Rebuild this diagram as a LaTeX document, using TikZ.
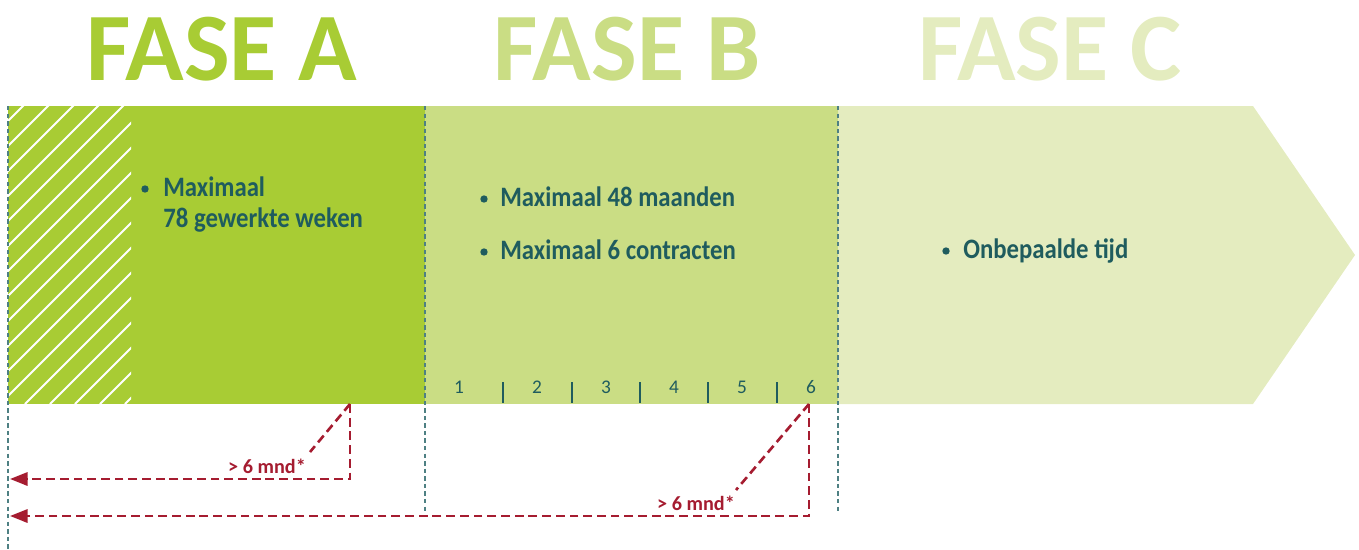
\documentclass[tikz,border=0pt]{standalone}
\usepackage{fontspec}
\setmainfont{Carlito}
\newfontfamily\smal{Carlito}[FakeStretch=0.88,BoldFont={Carlito Bold},BoldFeatures={FakeStretch=0.88}]
\usetikzlibrary{arrows.meta}
\definecolor{faseA}{HTML}{A8CC34}
\definecolor{faseB}{HTML}{CADD84}
\definecolor{faseC}{HTML}{E4ECBF}
\definecolor{tekst}{HTML}{1F5C5E}
\definecolor{termijn}{HTML}{A51C30}
\definecolor{grens}{HTML}{4E8083}
\begin{document}
\begin{tikzpicture}[x=0.2mm,y=-0.2mm,
    titel/.style={anchor=base,font=\fontsize{55}{60}\selectfont\bfseries},
    punt/.style={anchor=base west,inner sep=0pt,text=tekst,font=\smal\fontsize{16}{18}\selectfont\bfseries},
    bol/.style={circle,fill=tekst,inner sep=0pt,minimum size=4.2pt},
    maand/.style={anchor=base,text=tekst,font=\fontsize{11}{12}\selectfont},
    termijntekst/.style={anchor=base,text=termijn,font=\fontsize{11.5}{12}\selectfont\bfseries},
    grenslijn/.style={grens,line width=0.8pt,dash pattern=on 2.5pt off 1.8pt},
    termijnlijn/.style={termijn,line width=1.5pt,dash pattern=on 5pt off 2.8pt},
    pijl/.style={termijnlijn,-{Triangle[length=10pt,width=7.5pt]}}]
    \useasboundingbox (0,0) rectangle (1359,549);
    % fasen
    \fill[faseA] (8,106) rectangle (425,404);
    \fill[faseB] (425,106) rectangle (838,404);
    \fill[faseC] (838,106) -- (1253,106) -- (1355,255) -- (1253,404) -- (838,404) -- cycle;
    \begin{scope}
        \clip (8,106) rectangle (131,404);
        \foreach \i in {-300,-275,...,150}
            \draw[white,line width=1.1pt] (\i,404) -- ++(300,-300);
    \end{scope}
    % grenzen
    \coordinate (gA) at (8,106);   \coordinate (gA') at (8,549);
    \coordinate (gB) at (425,106); \coordinate (gB') at (425,514);
    \coordinate (gC) at (838,106); \coordinate (gC') at (838,514);
    \draw[grenslijn] (gA) -- (gA');
    \draw[grenslijn] (gB) -- (gB');
    \draw[grenslijn] (gC) -- (gC');
    % titels
    \node[titel,text=faseA] (tA) at (222,80) {FASE A};
    \node[titel,text=faseB] (tB) at (627,80) {FASE B};
    \node[titel,text=faseC] (tC) at (1050,80) {FASE C};
    % teksten
    \node[bol] (bA1) at (145,189) {};
    \node[punt] (pA1) at (163,196) {Maximaal};
    \node[punt] (pA2) at (163,227) {78 gewerkte weken};
    \node[bol] (bB1) at (484,199) {};
    \node[punt] (pB1) at (500,206) {Maximaal 48 maanden};
    \node[bol] (bB2) at (484,252) {};
    \node[punt] (pB2) at (500,259) {Maximaal 6 contracten};
    \node[bol] (bC1) at (946,251) {};
    \node[punt] (pC1) at (963,258) {Onbepaalde tijd};
    % contracten
    \foreach \n/\x in {1/459,2/537,3/606,4/674,5/742,6/811}
        \node[maand] (m\n) at (\x,393) {\n};
    \foreach \x in {503,572,640,708,777}
        \draw[tekst,line width=0.8pt] (\x,382) -- (\x,403);
    % tussenpozen
    \coordinate (k1) at (350,404); \coordinate (d1) at (310,452); \coordinate (e1) at (10,479);
    \coordinate (k2) at (809,404); \coordinate (d2) at (736,490); \coordinate (e2) at (10,516);
    \draw[pijl] (k1) |- (e1);
    \draw[termijnlijn] (k1) -- (d1);
    \draw[pijl] (k2) |- (e2);
    \draw[termijnlijn] (k2) -- (d2);
    \node[termijntekst] (l1) at (267,473) {> 6 mnd*};
    \node[termijntekst] (l2) at (696,510) {> 6 mnd*};
\end{tikzpicture}
\end{document}
